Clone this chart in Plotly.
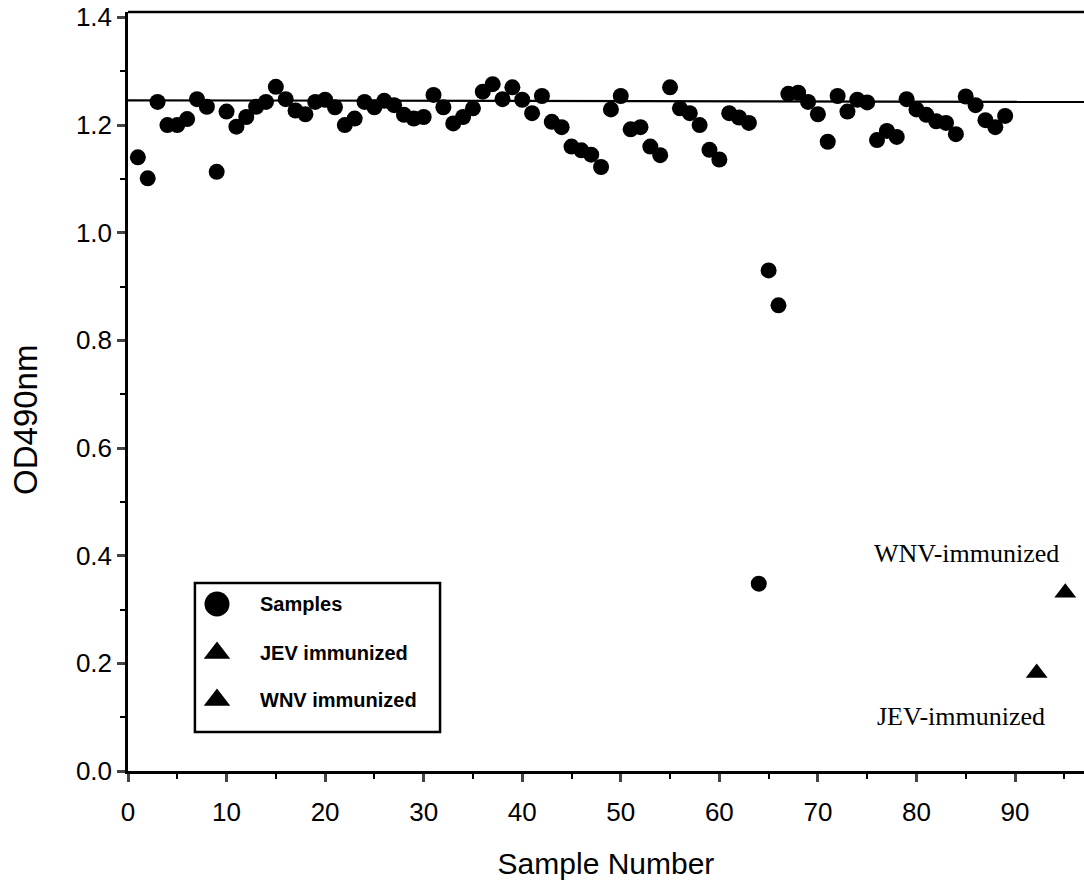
import plotly.graph_objects as go

sample_no = list(range(1, 90))
sample_od = [
    1.140, 1.101, 1.243, 1.200, 1.200, 1.211, 1.248, 1.234, 1.113, 1.225,
    1.197, 1.215, 1.234, 1.243, 1.271, 1.248, 1.227, 1.220, 1.243, 1.247,
    1.233, 1.200, 1.212, 1.243, 1.233, 1.245, 1.237, 1.219, 1.212, 1.215,
    1.256, 1.233, 1.203, 1.215, 1.231, 1.262, 1.276, 1.248, 1.270, 1.247,
    1.222, 1.254, 1.206, 1.196, 1.160, 1.153, 1.145, 1.122, 1.229, 1.254,
    1.192, 1.196, 1.160, 1.144, 1.270, 1.231, 1.222, 1.200, 1.154, 1.136,
    1.222, 1.214, 1.204, 0.348, 0.930, 0.865, 1.258, 1.260, 1.243, 1.220,
    1.169, 1.254, 1.225, 1.247, 1.242, 1.172, 1.189, 1.178, 1.248, 1.229,
    1.219, 1.207, 1.204, 1.183, 1.253, 1.237, 1.209, 1.196, 1.217,
]
jev_x = [92.2]
jev_y = [0.182]
wnv_x = [95.1]
wnv_y = [0.331]
cutoff_x = [0, 97]
cutoff_y = [1.246, 1.243]

x_ticks = [0, 10, 20, 30, 40, 50, 60, 70, 80, 90]
x_minor = [5, 15, 25, 35, 45, 55, 65, 75, 85, 95]
y_ticks = [0, 0.2, 0.4, 0.6, 0.8, 1.0, 1.2, 1.4]
y_ticktext = ["0.0", "0.2", "0.4", "0.6", "0.8", "1.0", "1.2", "1.4"]
y_minor = [0.1, 0.3, 0.5, 0.7, 0.9, 1.1, 1.3]

legend_names = ["Samples", "JEV immunized", "WNV immunized"]
legend_symbols = ["circle", "triangle-up", "triangle-up"]

fig = go.Figure()
fig.add_trace(go.Scatter(x=cutoff_x, y=cutoff_y, mode="lines",
                         line=dict(color="black", width=2.2), showlegend=False,
                         hoverinfo="skip"))
fig.add_trace(go.Scatter(x=sample_no, y=sample_od, mode="markers", name="Samples",
                         marker=dict(symbol="circle", size=16, color="black"),
                         showlegend=False))
fig.add_trace(go.Scatter(x=jev_x, y=jev_y, mode="markers", name="JEV immunized",
                         marker=dict(symbol="triangle-up", size=19, color="black"),
                         showlegend=False))
fig.add_trace(go.Scatter(x=wnv_x, y=wnv_y, mode="markers", name="WNV immunized",
                         marker=dict(symbol="triangle-up", size=19, color="black"),
                         showlegend=False))

# Hand-drawn legend box (paper coordinates) with real marker symbols on an overlay axis
leg_x0, leg_x1, leg_y0, leg_y1 = 0.070, 0.3264, 0.0514, 0.2477
leg_mark_x = 0.0931
leg_text_x = 0.136
leg_rows = [0.220, 0.1555, 0.0935]
leg_sizes = [25, 23, 23]
fig.add_shape(type="rect", xref="paper", yref="paper", x0=leg_x0, x1=leg_x1,
              y0=leg_y0, y1=leg_y1, line=dict(color="black", width=2.5),
              fillcolor="white", layer="below")
for name, sym, yy, sz in zip(legend_names, legend_symbols, leg_rows, leg_sizes):
    fig.add_trace(go.Scatter(x=[leg_mark_x], y=[yy], mode="markers", xaxis="x2", yaxis="y2",
                             marker=dict(symbol=sym, size=sz, color="black"),
                             showlegend=False, hoverinfo="skip"))
    fig.add_annotation(xref="paper", yref="paper", x=leg_text_x, y=yy, xanchor="left",
                       yanchor="middle", text="<b>" + name + "</b>", showarrow=False,
                       font=dict(family="Liberation Sans", size=20, color="black"))

fig.add_annotation(x=85.1, y=0.404, text="WNV-immunized", showarrow=False,
                   font=dict(family="Liberation Serif", size=26, color="black"))
fig.add_annotation(x=84.5, y=0.102, text="JEV-immunized", showarrow=False,
                   font=dict(family="Liberation Serif", size=26, color="black"))

# y-axis title (offset below the axis centre, as in the original)
fig.add_annotation(xref="paper", yref="paper", x=-0.1067, y=0.4625, xanchor="center",
                   yanchor="middle", text="OD490nm", textangle=-90, showarrow=False,
                   font=dict(family="Liberation Sans", size=33, color="black"))

fig.update_layout(
    width=1084, height=885,
    margin=dict(l=128, r=0, t=12, b=114),
    paper_bgcolor="white", plot_bgcolor="white",
    showlegend=False,
    font=dict(family="Liberation Sans", color="black"),
    xaxis=dict(range=[0, 97], tickmode="array", tickvals=x_ticks,
               ticks="outside", ticklen=8, tickwidth=2.5, showline=True, linecolor="black",
               linewidth=2.5, showgrid=False, zeroline=False,
               ticklabelstandoff=8,
               minor=dict(tickvals=x_minor, ticks="outside",
                          ticklen=5, tickwidth=2, tickcolor="black"),
               tickfont=dict(size=26, family="Liberation Sans"),
               title=dict(text="Sample Number", font=dict(size=30), standoff=28)),
    yaxis=dict(range=[0, 1.41], tickmode="array", tickvals=y_ticks, ticktext=y_ticktext,
               ticks="outside", ticklen=8, tickwidth=2.5, showline=True, linecolor="black",
               linewidth=2.5, showgrid=False, zeroline=False,
               minor=dict(tickvals=y_minor, ticks="outside",
                          ticklen=5, tickwidth=2, tickcolor="black"),
               tickfont=dict(size=26, family="Liberation Sans")),
    xaxis2=dict(range=[0, 1], overlaying="x", visible=False, fixedrange=True),
    yaxis2=dict(range=[0, 1], overlaying="y", visible=False, fixedrange=True),
)
fig.add_shape(type="line", xref="paper", yref="paper", x0=0, x1=1, y0=1, y1=1,
              line=dict(color="black", width=2.5))

fig.write_html("out.html")
